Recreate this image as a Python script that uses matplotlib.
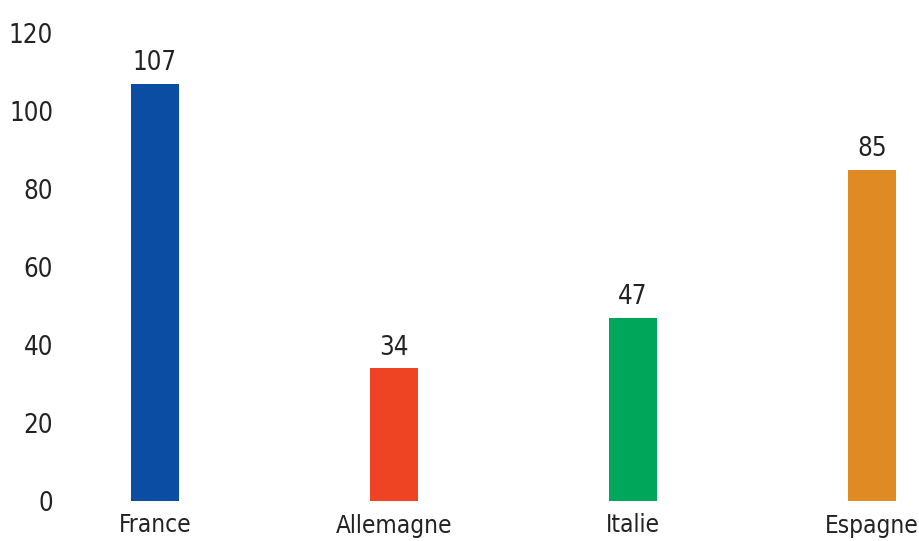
import matplotlib
matplotlib.use('Agg')
import matplotlib.pyplot as plt

# Données
pays = ['France', 'Allemagne', 'Italie', 'Espagne']
valeurs = [107, 34, 47, 85]
couleurs = ['#0A4DA2', '#EE4423', '#00A65A', '#E08A24']
graduations = [0, 20, 40, 60, 80, 100, 120]

plt.rcParams['font.family'] = ['DejaVu Sans']
plt.rcParams['font.stretch'] = 'condensed'

fig = plt.figure(figsize=(9.2, 5.41), dpi=100)
ax = fig.add_axes([60 / 920, 40 / 541, 860 / 920, 468 / 541])

x = range(len(pays))
barres = ax.bar(x, valeurs, width=0.2, color=couleurs)

# Étiquettes de valeur au-dessus des barres
for b, v in zip(barres, valeurs):
    ax.text(b.get_x() + b.get_width() / 2, v + 2, str(v),
            ha='center', va='bottom', fontsize=18.5, color='#222222')

ax.set_xlim(-0.397, 3.2)
ax.set_ylim(0, 120)
ax.set_yticks(graduations)
ax.set_xticks(list(x))
ax.set_xticklabels(pays)
ax.tick_params(axis='y', length=0, labelsize=18.5, labelcolor='#222222', pad=5)
ax.tick_params(axis='x', length=0, labelsize=17.5, labelcolor='#222222', pad=9)
for s in ax.spines.values():
    s.set_visible(False)

fig.savefig('out.png', dpi=100)
